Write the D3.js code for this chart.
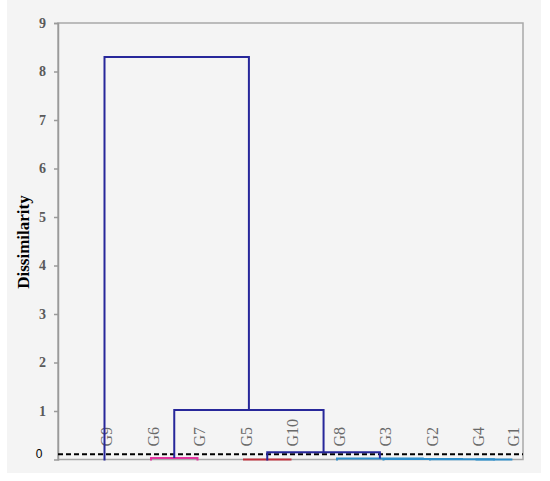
<!DOCTYPE html>
<html>
<head>
<meta charset="utf-8">
<script src="https://cdn.jsdelivr.net/npm/d3@7"></script>
<style>
  body { margin: 0; background: #ffffff; }
  .axis path, .axis line { stroke: #9a9a9a; stroke-width: 1.5; }
  .axis text { font-family: "Liberation Serif", serif; font-size: 14px; font-weight: bold; fill: #5a5a5a; }
  .leaf { font-family: "Liberation Serif", serif; font-size: 16px; fill: #6a6a6a; }
  .link { fill: none; stroke-width: 2; }
</style>
</head>
<body>
<div id="chart"></div>
<script>
// leaves in dendrogram order, and their slot along the x axis
var leaves = ["G9", "G6", "G7", "G5", "G10", "G8", "G3", "G2", "G4", "G1"];
var leafSlot = [1, 2, 3, 4, 5, 6, 7, 8, 9, 9.75];

// merges (agglomeration steps): left child, right child, height, group colour
var mergeId     = ["N1",  "N2",  "N3",   "N4",   "N5",   "N6",   "N7",   "N8",  "N9"];
var mergeLeft   = ["G6",  "G5",  "G4",   "G2",   "G3",   "G8",   "N2",   "N1",  "G9"];
var mergeRight  = ["G7",  "G10", "G1",   "N3",   "N4",   "N5",   "N6",   "N7",  "N8"];
var mergeHeight = [0.03,  0.0,   0.0,    0.005,  0.01,   0.02,   0.15,   1.02,  8.3];
var mergeGroup  = ["pink","red", "cyan", "cyan", "cyan", "cyan", "navy", "navy","navy"];

var yTicks = [1, 2, 3, 4, 5, 6, 7, 8, 9];
var truncation = 0.11;

var colors = {navy: "#27279a", pink: "#e0359d", red: "#c2303c", cyan: "#2f8fcc"};

var W = 550, H = 481;
var margin = {top: 23, right: 27, bottom: 21.5, left: 58};
var width = W - margin.left - margin.right,
    height = H - margin.top - margin.bottom;

var svg = d3.select("#chart").append("svg")
    .attr("width", W)
    .attr("height", H);

// light grey panel behind the chart
svg.append("rect")
    .attr("x", 7).attr("y", 0)
    .attr("width", 534).attr("height", 473)
    .attr("fill", "#f4f4f4");

var g = svg.append("g")
    .attr("transform", "translate(" + margin.left + "," + margin.top + ")");

var x = d3.scaleLinear().domain([0, 10]).range([0, width]);
var y = d3.scaleLinear().domain([0, 9]).range([height, 0]);

// plot frame
g.append("rect")
    .attr("width", width).attr("height", height)
    .attr("fill", "none")
    .attr("stroke", "#a8a8a8")
    .attr("stroke-width", 1.5);

var yAxis = d3.axisLeft(y)
    .tickValues(yTicks)
    .tickSizeOuter(0)
    .tickSize(4)
    .tickPadding(8);

g.append("g")
    .attr("class", "axis")
    .call(yAxis);

// node positions
var pos = {};
leaves.forEach(function(d, i) {
    pos[d] = {x: x(leafSlot[i]), h: 0};
});
mergeId.forEach(function(id, i) {
    var a = pos[mergeLeft[i]], b = pos[mergeRight[i]];
    pos[id] = {x: (a.x + b.x) / 2, h: mergeHeight[i]};
});

// leaf labels
g.selectAll(".leaf")
    .data(leaves)
    .enter().append("text")
    .attr("class", "leaf")
    .attr("transform", function(d) {
        return "translate(" + (pos[d].x + 2) + "," + (y(0) - 13) + ") rotate(-90)";
    })
    .attr("dy", "0.35em")
    .text(function(d) { return d; });

// truncation line
g.append("line")
    .attr("x1", 0).attr("x2", width)
    .attr("y1", y(truncation)).attr("y2", y(truncation))
    .attr("stroke", "#000")
    .attr("stroke-width", 2)
    .attr("stroke-dasharray", "5,3");

// links
g.selectAll(".link")
    .data(mergeId)
    .enter().append("path")
    .attr("class", "link")
    .attr("stroke", function(d, i) { return colors[mergeGroup[i]]; })
    .attr("d", function(id, i) {
        var a = pos[mergeLeft[i]], b = pos[mergeRight[i]], h = y(mergeHeight[i]);
        var ya = y(a.h) + (a.h === 0 ? 1 : 0), yb = y(b.h) + (b.h === 0 ? 1 : 0);
        return "M" + a.x + "," + ya + "V" + h + "H" + b.x + "V" + yb;
    });

svg.append("text")
    .attr("x", 39).attr("y", margin.top + y(truncation))
    .attr("dy", "0.35em")
    .attr("text-anchor", "middle")
    .style("font-family", "Liberation Sans, Arial, sans-serif")
    .style("font-size", "12px")
    .attr("fill", "#000")
    .text("0");

svg.append("text")
    .attr("transform", "translate(23," + 242 + ") rotate(-90)")
    .attr("text-anchor", "middle")
    .attr("dy", "0.35em")
    .style("font-family", "Liberation Serif, serif")
    .style("font-size", "17px")
    .style("font-weight", "bold")
    .text("Dissimilarity");
</script>
</body>
</html>
